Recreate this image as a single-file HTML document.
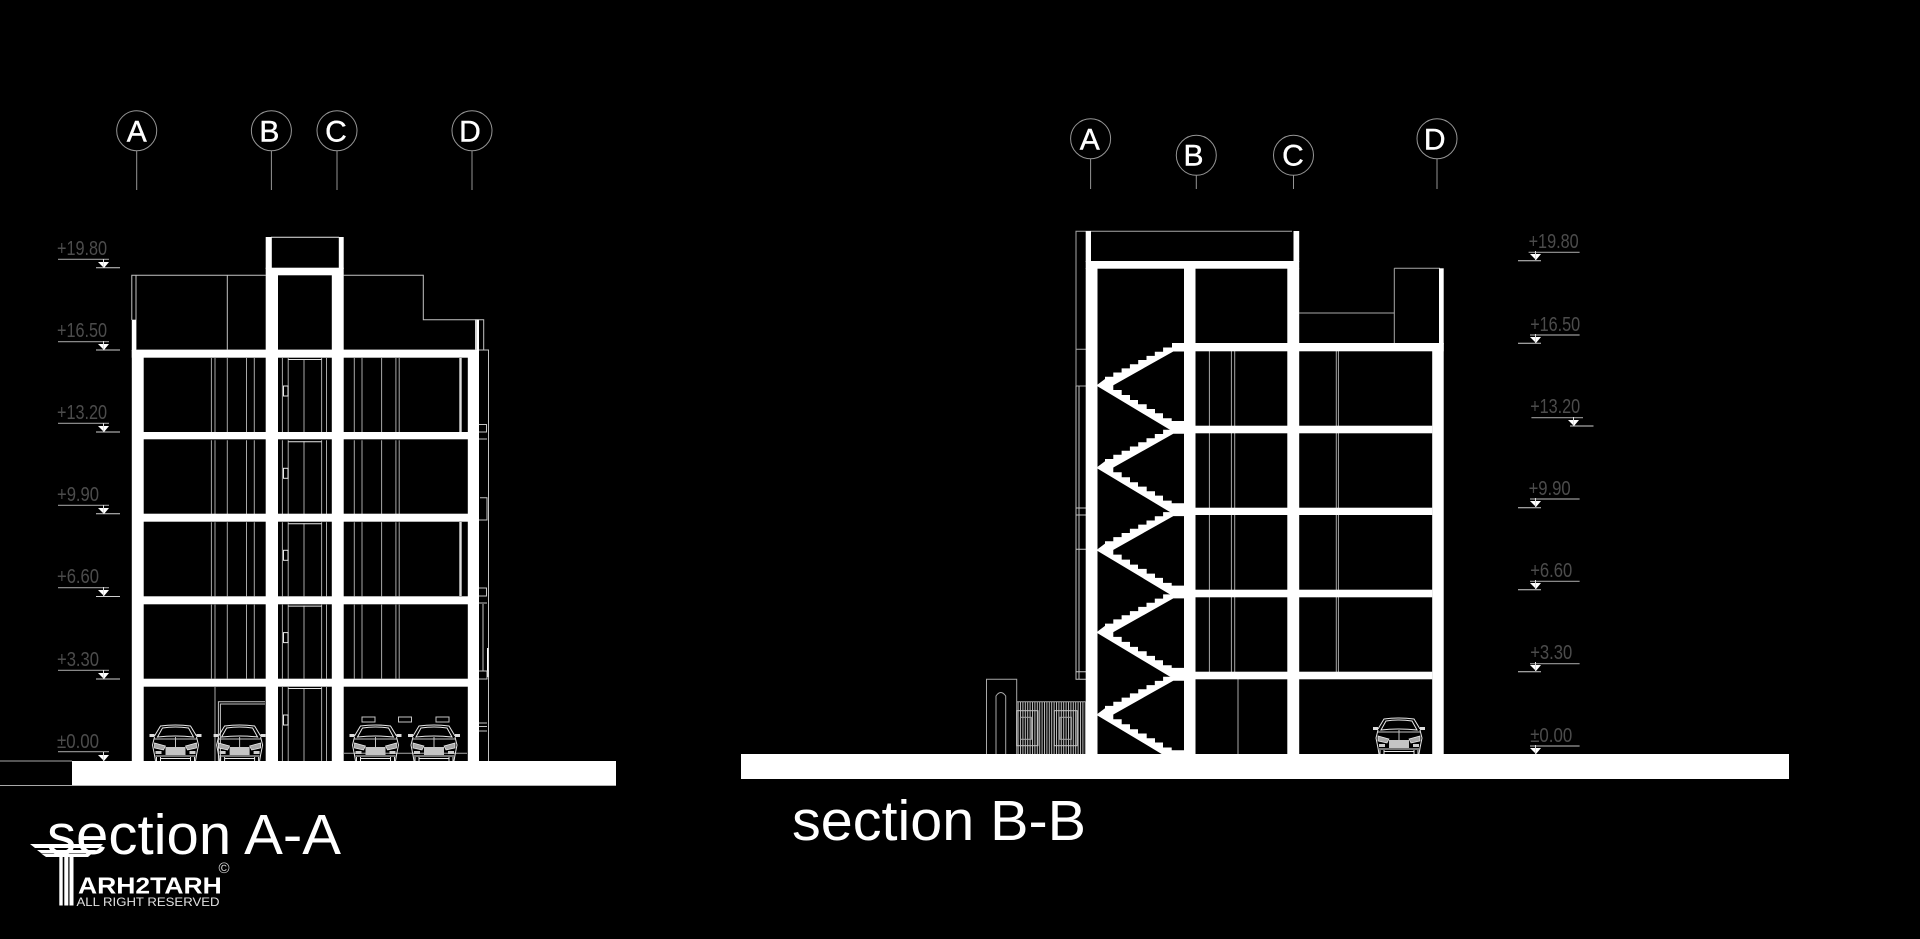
<!DOCTYPE html>
<html lang="en">
<head>
<meta charset="utf-8">
<title>Sections A-A and B-B</title>
<style>
html,body{margin:0;padding:0;background:#000;width:1920px;height:939px;overflow:hidden}
svg{display:block}
text{font-family:"Liberation Sans",sans-serif}
.t{fill:#fff}
.l{stroke:#a8a8a8;stroke-width:1;fill:none}
.b{stroke:#e8e8e8;stroke-width:1;fill:none}
.g{stroke:#c4c4c4;stroke-width:1;fill:none}
.c{stroke:#959595;stroke-width:1;fill:none}
.lv{fill:#4c4c4c;font-size:20px}
.bub{font-size:30px;fill:#fff;text-anchor:middle;stroke:#fff;stroke-width:.4}
</style>
</head>
<body>
<svg width="1920" height="939" viewBox="0 0 1920 939" xmlns="http://www.w3.org/2000/svg">
<defs>
<pattern id="fen" width="2.4" height="10" patternUnits="userSpaceOnUse"><rect width="1" height="10" fill="#bdbdbd"/></pattern>
<g id="car">
 <path class="b" d="M-21,-25 L-15,-35 Q0,-37 15,-35 L21,-25"/>
 <path class="b" d="M-18,-24 L-13,-33 Q0,-35 13,-33 L18,-24 Q0,-26 -18,-24Z" stroke-width=".8"/>
 <path d="M-26,-27h5v3h-5zM21,-27h5v3h-5z" fill="#ddd"/>
 <path class="b" d="M-21,-24 L-23,-16 L-21,-6 L-20,0 M21,-24 L23,-16 L21,-6 L20,0"/>
 <path class="g" d="M-21,-22 H21 M0,-24 V-14"/>
 <path d="M-21,-18 L-10,-15 L-12,-11 L-21,-13Z M21,-18 L10,-15 L12,-11 L21,-13Z" fill="#a8a8a8" stroke="#eee" stroke-width=".7"/>
 <rect x="-10" y="-14" width="20" height="8" fill="#c4c4c4"/>
 <path class="b" d="M-20,-5 H20 M-15,-2.5 H15"/>
 <path d="M-20,-10h6v3h-6zM14,-10h6v3h-6z" fill="#ccc"/>
 <path class="b" d="M-19,0 V-4 M-15,0 V-4 M19,0 V-4 M15,0 V-4"/>
</g>
<g id="tri">
 <path d="M0,0 H11 L6,6 Z" fill="#fff"/>
 <path d="M5.5,-3 V6" stroke="#ddd" stroke-width="1"/>
</g>
<g id="flr">
 <path class="l" d="M211.4,358V432M215,358V432M227.3,358V432M246.5,358V432M254.3,358V432M354.3,358V432M362,358V432M381.6,358V432M395.9,358V432M399.2,358V432"/>
</g>
<g id="lift">
 <path class="l" d="M282.4,358V432M288.2,358V432M304,359V432M321.6,358V432M326.5,358V432"/>
 <path class="b" d="M288.2,359.5H321.6"/>
 <rect x="283.5" y="386" width="4.5" height="10" class="b" fill="none"/>
</g>
<g id="flrB">
 <path class="l" d="M1209.4,351V426M1231.4,351V426M1234.7,351V426M1336.3,351V426M1338.4,351V426"/>
</g>
<g id="st">
 <path fill="#fff" d="M1097,385L1105,379V376.7H1113.3V372.5H1121.6V368.4H1129.9V364.2H1138.2V360H1146.5V355.9H1154.8V351.7H1163.1V347.5H1172V343H1185V351.5H1173.3L1112,386Z"/>
 <path fill="#fff" d="M1097,385H1113.3V390H1121.7V395H1130V400H1138V404.3H1146.7V409H1155V413.3H1163V418.3H1171.7V421H1185V431H1172L1097,386Z"/>
</g>
</defs>

<rect width="1920" height="939" fill="#000"/>

<!-- ========== SECTION A-A ========== -->
<g class="c">
 <circle cx="136.7" cy="130.7" r="20"/><circle cx="271.4" cy="130.7" r="20"/><circle cx="337" cy="130.7" r="20"/><circle cx="472" cy="130.7" r="20"/>
 <path d="M136.7,151V190M271.4,151V190M337,151V190M472,151V190"/>
</g>
<text class="bub" x="136.7" y="141.7">A</text>
<text class="bub" x="269.4" y="141.7">B</text>
<text class="bub" x="336" y="141.7">C</text>
<text class="bub" x="470" y="141.7">D</text>

<!-- levels left -->
<g>
 <text class="lv" x="57" y="255" textLength="50" lengthAdjust="spacingAndGlyphs">+19.80</text>
 <text class="lv" x="57" y="337" textLength="50" lengthAdjust="spacingAndGlyphs">+16.50</text>
 <text class="lv" x="57" y="419" textLength="50" lengthAdjust="spacingAndGlyphs">+13.20</text>
 <text class="lv" x="57" y="501" textLength="42" lengthAdjust="spacingAndGlyphs">+9.90</text>
 <text class="lv" x="57" y="583" textLength="42" lengthAdjust="spacingAndGlyphs">+6.60</text>
 <text class="lv" x="57" y="666" textLength="42" lengthAdjust="spacingAndGlyphs">+3.30</text>
 <text class="lv" x="57" y="748" textLength="42" lengthAdjust="spacingAndGlyphs">±0.00</text>
 <path stroke="#9a9a9a" stroke-width="1.2" fill="none" d="M58,259.3H109M58,341.7H109M58,423.3H109M58,505.3H109M58,587.7H109M58,670.3H109M58,751.7H109"/>
 <path stroke="#cfcfcf" stroke-width="1" fill="none" d="M96,267.7H120M96,350H120M96,432H120M96,513.7H120M96,596.5H120M96,679H120"/>
 <use href="#tri" x="98" y="262"/><use href="#tri" x="98" y="344"/><use href="#tri" x="98" y="426"/><use href="#tri" x="98" y="508"/><use href="#tri" x="98" y="590"/><use href="#tri" x="98" y="673"/><use href="#tri" x="98" y="755"/>
</g>

<!-- interior lines -->
<use href="#flr"/><use href="#flr" y="82.3"/><use href="#flr" y="164.3"/><use href="#flr" y="246.6"/>
<use href="#lift"/><use href="#lift" y="82.3"/><use href="#lift" y="164.3"/><use href="#lift" y="246.6"/><use href="#lift" y="329" />
<path class="l" d="M215,687V761"/>
<path class="g" d="M218.4,761V701.7H265M220.4,761V704H265"/>
<path class="l" d="M344,753.3H467"/>
<rect x="362" y="717" width="13" height="5" class="g"/><rect x="398.5" y="717" width="13" height="5" class="g"/><rect x="436" y="717" width="13" height="5" class="g"/>

<use href="#car" x="175.5" y="761"/><use href="#car" x="239.6" y="761"/><use href="#car" x="375.5" y="761"/><use href="#car" x="434" y="761"/>

<!-- roof outlines -->
<path class="g" d="M131.8,320V275.3H265.7M136,275.3V350M227.3,275.3V350M343.7,275.3H423.3V319.7H483.7V350M479,350H488.5V761M136,350H476"/>
<path class="b" d="M271,237.3H339"/>

<!-- structure A -->
<g fill="#fff">
 <rect x="265.7" y="237" width="6.1" height="32"/>
 <rect x="338.8" y="237" width="4.9" height="32"/>
 <rect x="265.7" y="267.7" width="78" height="7.6"/>
 <rect x="265.7" y="275" width="12.3" height="486"/>
 <rect x="331.8" y="275" width="11.9" height="486"/>
 <rect x="131.8" y="319.7" width="4.2" height="31"/>
 <rect x="475" y="319.7" width="4" height="31"/>
 <rect x="131.8" y="350" width="347.2" height="7.7"/>
 <rect x="131.8" y="350" width="11.9" height="411"/>
 <rect x="467.8" y="350" width="11.2" height="411"/>
 <rect x="143" y="432" width="325" height="7.3"/>
 <rect x="143" y="513.7" width="325" height="8"/>
 <rect x="143" y="596.3" width="325" height="8"/>
 <rect x="143" y="678.7" width="325" height="8"/>
 <rect x="72" y="761" width="544" height="24.7"/>
 <rect x="459.3" y="358" width="2.4" height="74" fill="#ddd"/>
 <rect x="459.3" y="522" width="2.4" height="74" fill="#ddd"/>
 <rect x="487" y="648" width="1.4" height="29"/>
</g>
<path class="l" d="M0,761H72M0,785.5H72"/>
<path class="g" d="M479,424.5H486.5V432H479M479,439H487M480,497.7H487V520H479M479,588H486.5V596H479M479,603H487M483,604V671M479,671H487V679H479M479,723H487M479,726.5H487M479,731H487"/>
<path class="l" d="M476,350V320"/>

<!-- ========== SECTION B-B ========== -->
<g class="c">
 <circle cx="1090.6" cy="138.7" r="20"/><circle cx="1196.3" cy="155.3" r="20"/><circle cx="1293.5" cy="155.3" r="20"/><circle cx="1437" cy="138.7" r="20"/>
 <path d="M1090.6,159V189M1196.3,175V189M1293.5,175V189M1437,159V189"/>
</g>
<text class="bub" x="1089.8" y="149.3">A</text>
<text class="bub" x="1193.5" y="165.5">B</text>
<text class="bub" x="1293" y="165.5">C</text>
<text class="bub" x="1434.7" y="149.3">D</text>

<g>
 <text class="lv" x="1528.6" y="248" textLength="50" lengthAdjust="spacingAndGlyphs">+19.80</text>
 <text class="lv" x="1530.2" y="331" textLength="50" lengthAdjust="spacingAndGlyphs">+16.50</text>
 <text class="lv" x="1530.2" y="413" textLength="50" lengthAdjust="spacingAndGlyphs">+13.20</text>
 <text class="lv" x="1528.6" y="495" textLength="42" lengthAdjust="spacingAndGlyphs">+9.90</text>
 <text class="lv" x="1530.2" y="577" textLength="42" lengthAdjust="spacingAndGlyphs">+6.60</text>
 <text class="lv" x="1530.2" y="659" textLength="42" lengthAdjust="spacingAndGlyphs">+3.30</text>
 <text class="lv" x="1530.2" y="742" textLength="42" lengthAdjust="spacingAndGlyphs">±0.00</text>
 <path stroke="#9a9a9a" stroke-width="1.2" fill="none" d="M1528.6,252.3H1579.6M1530,335H1579.6M1531.4,417.7H1583M1530,499H1579.6M1530,581.3H1579.6M1530,663.7H1579.6M1530,746H1579.6"/>
 <path stroke="#cfcfcf" stroke-width="1" fill="none" d="M1518,260.7H1541M1518,343.3H1541M1570,426H1593.5M1518,507.7H1541M1518,589.7H1541M1518,671.7H1541"/>
 <use href="#tri" x="1530" y="254"/><use href="#tri" x="1530" y="337"/><use href="#tri" x="1568" y="420"/><use href="#tri" x="1530" y="501"/><use href="#tri" x="1530" y="583"/><use href="#tri" x="1530" y="665"/><use href="#tri" x="1530" y="748"/>
</g>

<use href="#flrB"/><use href="#flrB" y="82"/><use href="#flrB" y="164"/><use href="#flrB" y="246"/>
<path class="l" d="M1238,679V754"/>

<use href="#car" x="1399" y="754"/>

<!-- facade lines -->
<path class="l" d="M1076,386V231.3H1292M1076,349.3H1086M1076,386H1086M1299,313H1394.3M1394.3,268.3V343M1394.3,268.3H1440"/>
<path class="g" d="M1076,386V679.3H1086M1079,386V679M1076,508H1086M1076,515H1086M1076,549.3H1086M1076,671.7H1086"/>

<!-- gate and fence -->
<rect x="1016.7" y="701.7" width="69" height="52.3" fill="url(#fen)"/>
<path class="l" d="M986.5,754V679.3H1016.7V754M996,754V696Q1000.8,689 1005.7,696V754M1016.7,701.7H1085.7"/>
<rect x="1016.7" y="710.7" width="21.3" height="35" fill="#000" class="g"/><rect x="1020.4" y="717.3" width="11" height="22" fill="#000" class="l"/>
<rect x="1054.3" y="710.7" width="22.8" height="35" fill="#000" class="g"/><rect x="1060" y="717.3" width="11.4" height="22" fill="#000" class="l"/>

<!-- stairs -->
<use href="#st"/><use href="#st" y="82.3"/><use href="#st" y="164.6"/><use href="#st" y="246.9"/><use href="#st" y="329.2"/>

<!-- structure B -->
<g fill="#fff">
 <rect x="1085.7" y="231" width="5.3" height="31"/>
 <rect x="1293.5" y="231" width="5.7" height="31"/>
 <rect x="1085.7" y="261" width="213.5" height="7.7"/>
 <rect x="1085.7" y="268" width="11.8" height="486"/>
 <rect x="1184" y="268" width="11.5" height="486"/>
 <rect x="1287.3" y="268" width="11.9" height="486"/>
 <rect x="1439" y="268.3" width="4.7" height="76"/>
 <rect x="1174.3" y="343" width="269.4" height="8.3"/>
 <rect x="1432.2" y="343" width="11.5" height="411"/>
 <rect x="1174.3" y="425.7" width="258" height="7.6"/>
 <rect x="1174.3" y="507.7" width="258" height="7.3"/>
 <rect x="1174.3" y="589.7" width="258" height="7.6"/>
 <rect x="1174.3" y="671.7" width="258" height="7.6"/>
 <rect x="741" y="754" width="1048" height="25"/>
</g>

<!-- titles -->
<text class="t" x="47" y="854" font-size="57" textLength="294" lengthAdjust="spacingAndGlyphs">section A-A</text>
<text class="t" x="792" y="840" font-size="57" textLength="294" lengthAdjust="spacingAndGlyphs">section B-B</text>

<!-- logo -->
<g fill="#fff">
 <path d="M30,844H103L99,848H35Z"/>
 <path d="M37,850H96L92,853H41Z"/>
 <path d="M41,853.5H92L88,857H46Z"/>
 <rect x="59.3" y="857" width="3.4" height="48.5"/>
 <rect x="64.3" y="857" width="4" height="48.5"/>
 <rect x="69.5" y="857" width="4" height="48.5"/>
</g>
<text class="t" x="78" y="893.3" font-size="23" font-weight="bold" textLength="143.7" lengthAdjust="spacingAndGlyphs">ARH2TARH</text>
<text x="76.5" y="906" font-size="12" fill="#e2e2e2" textLength="143" lengthAdjust="spacingAndGlyphs">ALL RIGHT RESERVED</text>
<text x="218.5" y="873" font-size="15" fill="#ddd">©</text>
</svg>
</body>
</html>
